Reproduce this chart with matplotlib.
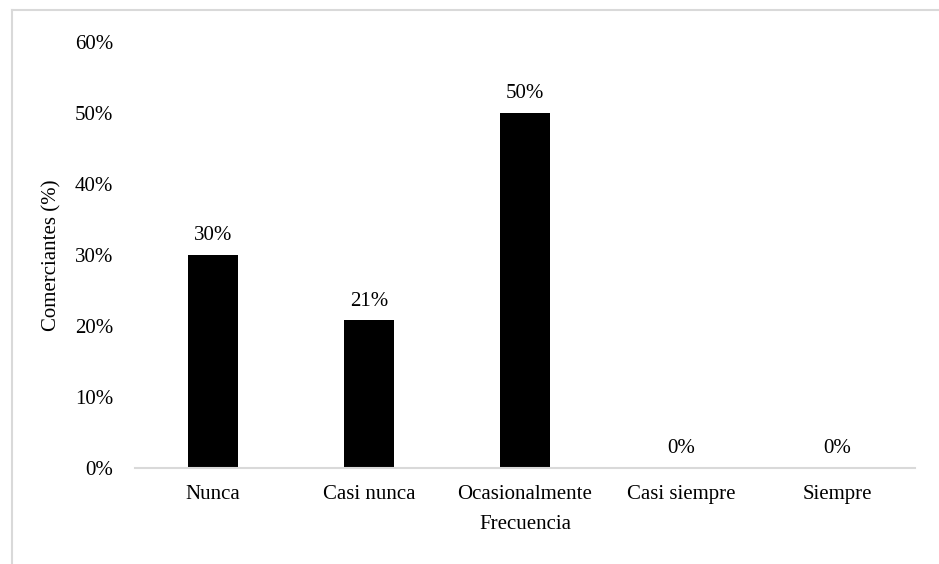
import matplotlib.pyplot as plt
from matplotlib.lines import Line2D
from matplotlib.ticker import PercentFormatter

plt.rcParams['font.family'] = ['Liberation Serif', 'DejaVu Serif']

categorias = ["Nunca", "Casi nunca", "Ocasionalmente", "Casi siempre", "Siempre"]
porcentajes = [30.0, 20.8, 50.0, 0.0, 0.0]
ticks_y = [0, 10, 20, 30, 40, 50, 60]

W, H = 939, 564
fig = plt.figure(figsize=(W / 100, H / 100), dpi=100)
ax = fig.add_axes([135 / W, 1 - 468 / H, 780 / W, 426 / H])

pos = range(len(categorias))
barras = ax.bar(pos, porcentajes, width=0.32, color="black")

for b, v in zip(barras, porcentajes):
    ax.annotate(f"{v:.0f}%", (b.get_x() + b.get_width() / 2, v),
                xytext=(0, 7), textcoords="offset points",
                ha="center", va="bottom", fontsize=15)

ax.set_xlim(-0.5, len(categorias) - 0.5)
ax.set_ylim(0, 60)
ax.set_yticks(ticks_y)
ax.yaxis.set_major_formatter(PercentFormatter(decimals=0))
ax.set_xticks(list(pos))
ax.set_xticklabels(categorias)
ax.tick_params(axis="both", length=0, labelsize=15)
ax.tick_params(axis="y", pad=15.5)
ax.tick_params(axis="x", pad=12)

for lado in ["top", "right", "left"]:
    ax.spines[lado].set_visible(False)
ax.spines["bottom"].set_color("#d9d9d9")
ax.spines["bottom"].set_linewidth(1.5)

ax.set_xlabel("Frecuencia", fontsize=15, labelpad=8)
ax.set_ylabel("Comerciantes (%)", fontsize=15, labelpad=10)

# marco gris claro del recuadro (solo lados superior e izquierdo visibles)
fig.add_artist(Line2D([12 / W, 1], [1 - 10 / H, 1 - 10 / H], color="#d9d9d9", lw=1.5))
fig.add_artist(Line2D([12 / W, 12 / W], [0, 1 - 10 / H], color="#d9d9d9", lw=1.5))

fig.savefig("out.png", dpi=100, facecolor="white")
